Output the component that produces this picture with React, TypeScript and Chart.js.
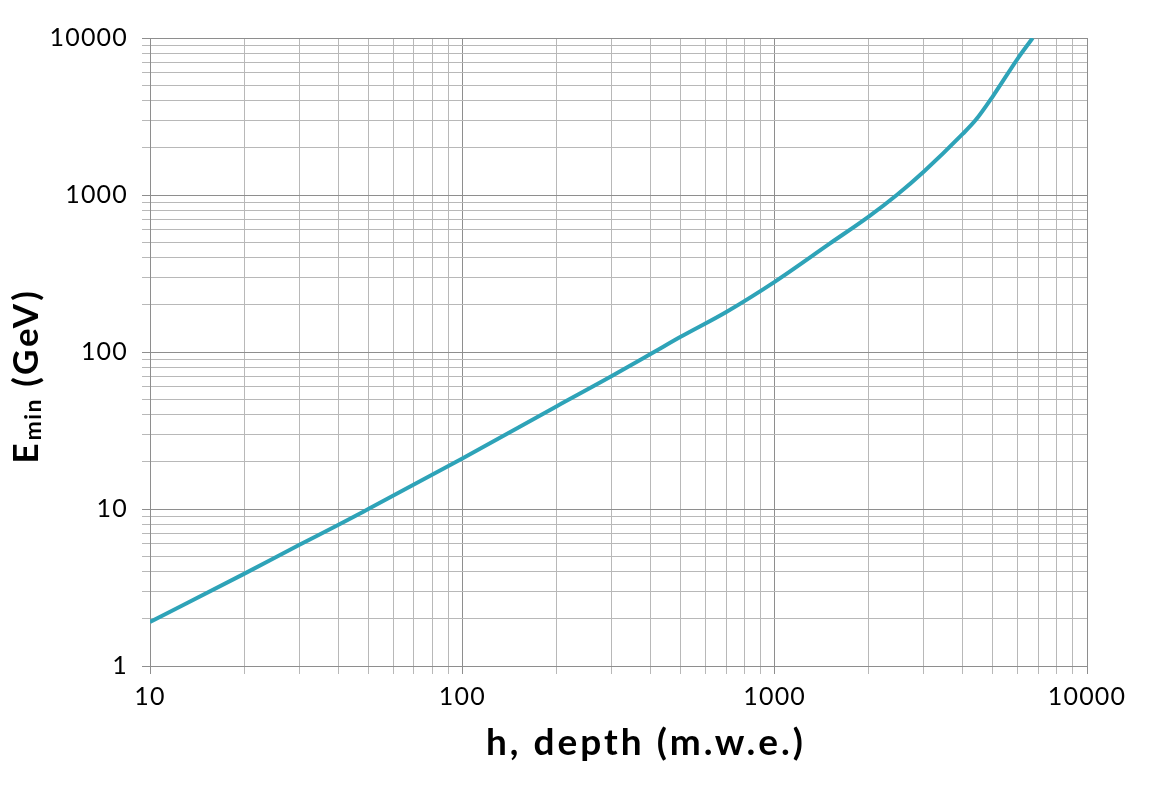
import React, { useEffect, useRef } from 'react';
import { Chart, registerables } from 'chart.js';
Chart.register(...registerables);

const depth = [10, 20, 30, 40, 50, 100, 200, 300, 411, 500, 700, 1000, 1500, 2000, 2460, 3000, 4000, 4400, 5000, 6000, 6700];
const emin = [1.91, 3.86, 5.9, 7.9, 10, 21, 45, 70, 100, 125, 180, 280, 490, 728, 1000, 1407, 2450, 3000, 4270, 7400, 10000];
const xTickLabels = [10, 100, 1000, 10000];
const yTickLabels = [1, 10, 100, 1000, 10000];
const xTitle = 'h, depth (m.w.e.)';
const yTitleMain = 'E';
const yTitleSub = 'min';
const yTitleRest = ' (GeV)';

function gridValues(min: number, max: number) {
  const out: number[] = [];
  for (let d = min; d < max; d *= 10) {
    for (let k = 1; k < 10; k++) out.push(d * k);
  }
  out.push(max);
  return out;
}

const isPow10 = (v: number) => Math.abs(Math.log10(v) - Math.round(Math.log10(v))) < 1e-9;

const spacingPlugin = {
  id: 'tickSpacing',
  beforeDraw(chart: any) {
    (chart.ctx as any).letterSpacing = '1.2px';
  },
};

const titlePlugin = {
  id: 'customTitles',
  afterDraw(chart: any) {
    const ctx = chart.ctx;
    ctx.save();
    ctx.fillStyle = '#000';
    ctx.textBaseline = 'alphabetic';
    ctx.font = 'bold 37px Lato';
    ctx.letterSpacing = '3px';
    ctx.textAlign = 'center';
    ctx.fillText(xTitle, 646, 755);

    // y title, rotated
    const big = 'bold 35px Lato';
    const small = 'bold 23px Lato';
    ctx.letterSpacing = '2.8px';
    ctx.font = big;
    const wE = ctx.measureText(yTitleMain).width;
    const wR = ctx.measureText(yTitleRest).width;
    ctx.font = small;
    ctx.letterSpacing = '1.5px';
    const wS = ctx.measureText(yTitleSub).width;
    const total = wE + wS + wR;
    ctx.translate(38, 376);
    ctx.rotate(-Math.PI / 2);
    ctx.textAlign = 'left';
    let x = -total / 2;
    ctx.font = big;
    ctx.letterSpacing = '2.8px';
    ctx.fillText(yTitleMain, x, 0);
    x += wE;
    ctx.font = small;
    ctx.letterSpacing = '1.5px';
    ctx.fillText(yTitleSub, x, 3);
    x += wS;
    ctx.font = big;
    ctx.letterSpacing = '2.8px';
    ctx.fillText(yTitleRest, x, 0);
    ctx.restore();
  },
};

export default function App() {
  const ref = useRef<HTMLCanvasElement | null>(null);
  useEffect(() => {
    if (!ref.current) return;
    const gridColor = (c: any) => (c.tick && isPow10(c.tick.value) ? '#8e8e8e' : '#b8b8b8');
    const chart = new Chart(ref.current, {
      type: 'line',
      data: {
        datasets: [
          {
            data: depth.map((h, i) => ({ x: h, y: emin[i] })),
            borderColor: '#2ea3b8',
            borderWidth: 4,
            pointRadius: 0,
            cubicInterpolationMode: 'monotone',
            fill: false,
          },
        ],
      },
      options: {
        responsive: false,
        animation: false,
        devicePixelRatio: 1,
        layout: { padding: { top: 38, right: 73, left: 0, bottom: 0 } },
        plugins: { legend: { display: false }, tooltip: { enabled: false }, title: { display: false } },
        scales: {
          x: {
            type: 'logarithmic',
            min: 10,
            max: 10000,
            afterBuildTicks: (s: any) => {
              s.ticks = gridValues(10, 10000).map((v) => ({ value: v }));
            },
            afterFit: (s: any) => {
              s.height = 129;
            },
            ticks: {
              autoSkip: false,
              maxRotation: 0,
              minRotation: 0,
              padding: 8,
              color: '#000',
              font: { family: 'Lato', size: 25 },
              callback: (v: any) => (xTickLabels.includes(Number(v)) ? String(v) : ''),
            },
            grid: { color: gridColor, tickColor: gridColor, tickLength: 8, lineWidth: 1 },
            border: { color: '#8e8e8e', width: 1 },
          },
          y: {
            type: 'logarithmic',
            min: 1,
            max: 10000,
            afterBuildTicks: (s: any) => {
              s.ticks = gridValues(1, 10000).map((v) => ({ value: v }));
            },
            afterFit: (s: any) => {
              s.width = 150;
            },
            ticks: {
              autoSkip: false,
              padding: 14,
              color: '#000',
              font: { family: 'Lato', size: 25 },
              callback: (v: any) => (yTickLabels.includes(Number(v)) ? String(v) : ''),
            },
            grid: { color: gridColor, tickColor: gridColor, tickLength: 8, lineWidth: 1 },
            border: { color: '#8e8e8e', width: 1 },
          },
        },
      },
      plugins: [spacingPlugin, titlePlugin],
    } as any);
    return () => chart.destroy();
  }, []);
  return (
    <div style={{ position: 'absolute', left: 0, top: 0, width: 1160, height: 795, background: '#fff' }}>
      <canvas ref={ref} width={1160} height={795} style={{ display: 'block' }} />
    </div>
  );
}
